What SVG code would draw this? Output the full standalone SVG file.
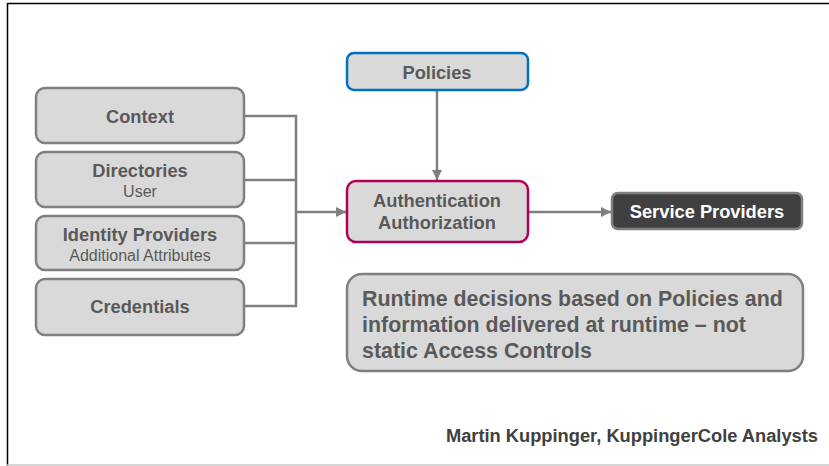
<svg xmlns="http://www.w3.org/2000/svg" width="829" height="466" viewBox="0 0 829 466">
<style>
.box{fill:#d9d9d9;stroke:#808080;stroke-width:2.5}
.t{font-family:"Liberation Sans",Arial,sans-serif;font-weight:bold;fill:#595959;text-anchor:middle}
.s{font-family:"Liberation Sans",Arial,sans-serif;fill:#595959;text-anchor:middle;font-size:16px}
.c{fill:none;stroke:#808080;stroke-width:2.5}
</style>
<defs>
<marker id="ah" viewBox="0 0 10 10" refX="10" refY="5" markerWidth="4" markerHeight="4" markerUnits="strokeWidth" orient="auto">
<path d="M0,0 L10,5 L0,10 z" fill="#808080"/>
</marker>
</defs>
<rect width="829" height="466" fill="#fff"/>
<line x1="7.5" y1="3.5" x2="829" y2="3.5" stroke="#000" stroke-width="1.5"/>
<line x1="7.5" y1="3" x2="7.5" y2="466" stroke="#000" stroke-width="1.5"/>
<line x1="7" y1="465" x2="829" y2="465" stroke="#c8c8c8" stroke-width="1.5"/>
<g id="connectors">
<path class="c" d="M244,116 H296 V306 H244 M244,180 H296 M244,243 H296"/>
<line class="c" x1="296" y1="212" x2="346" y2="212" marker-end="url(#ah)"/>
<line class="c" x1="437" y1="90" x2="437" y2="180" marker-end="url(#ah)"/>
<line class="c" x1="528" y1="212" x2="611" y2="212" marker-end="url(#ah)"/>
</g>
<g id="context">
<rect class="box" x="36" y="88" width="208" height="55" rx="9"/>
<text class="t" x="140" y="123" font-size="18.3">Context</text>
</g>
<g id="directories">
<rect class="box" x="36" y="152" width="208" height="55" rx="9"/>
<text class="t" x="140" y="177" font-size="18.3">Directories</text>
<text class="s" x="140" y="197">User</text>
</g>
<g id="identity-providers">
<rect class="box" x="36" y="216" width="208" height="54" rx="9"/>
<text class="t" x="140" y="241" font-size="18.3">Identity Providers</text>
<text class="s" x="140" y="261">Additional Attributes</text>
</g>
<g id="credentials">
<rect class="box" x="36" y="279" width="208" height="56" rx="9"/>
<text class="t" x="140" y="313" font-size="18.3">Credentials</text>
</g>
<g id="policies">
<rect x="347" y="53" width="181" height="37" rx="7" fill="#d9d9d9" stroke="#0070c0" stroke-width="2.5"/>
<text class="t" x="437" y="79" font-size="18.3">Policies</text>
</g>
<g id="auth">
<rect x="347" y="181" width="181" height="61" rx="9" fill="#d9d9d9" stroke="#b0005a" stroke-width="2.5"/>
<text class="t" x="437" y="207" font-size="18.3">Authentication</text>
<text class="t" x="437" y="229" font-size="18.3">Authorization</text>
</g>
<g id="service-providers">
<rect x="612" y="193" width="190" height="36" rx="6" fill="#404040" stroke="#808080" stroke-width="2.5"/>
<text class="t" x="707" y="218" font-size="18.3" style="fill:#fff">Service Providers</text>
</g>
<g id="runtime">
<rect class="box" x="347" y="274" width="456" height="97" rx="15"/>
<text class="t" x="362" y="306" font-size="21.4" style="text-anchor:start">Runtime decisions based on Policies and</text>
<text class="t" x="362" y="332" font-size="21.4" style="text-anchor:start">information delivered at runtime – not</text>
<text class="t" x="362" y="358" font-size="21.4" style="text-anchor:start">static Access Controls</text>
</g>
<text class="t" x="818" y="442" font-size="18.3" style="text-anchor:end;fill:#404040">Martin Kuppinger, KuppingerCole Analysts</text>
</svg>
